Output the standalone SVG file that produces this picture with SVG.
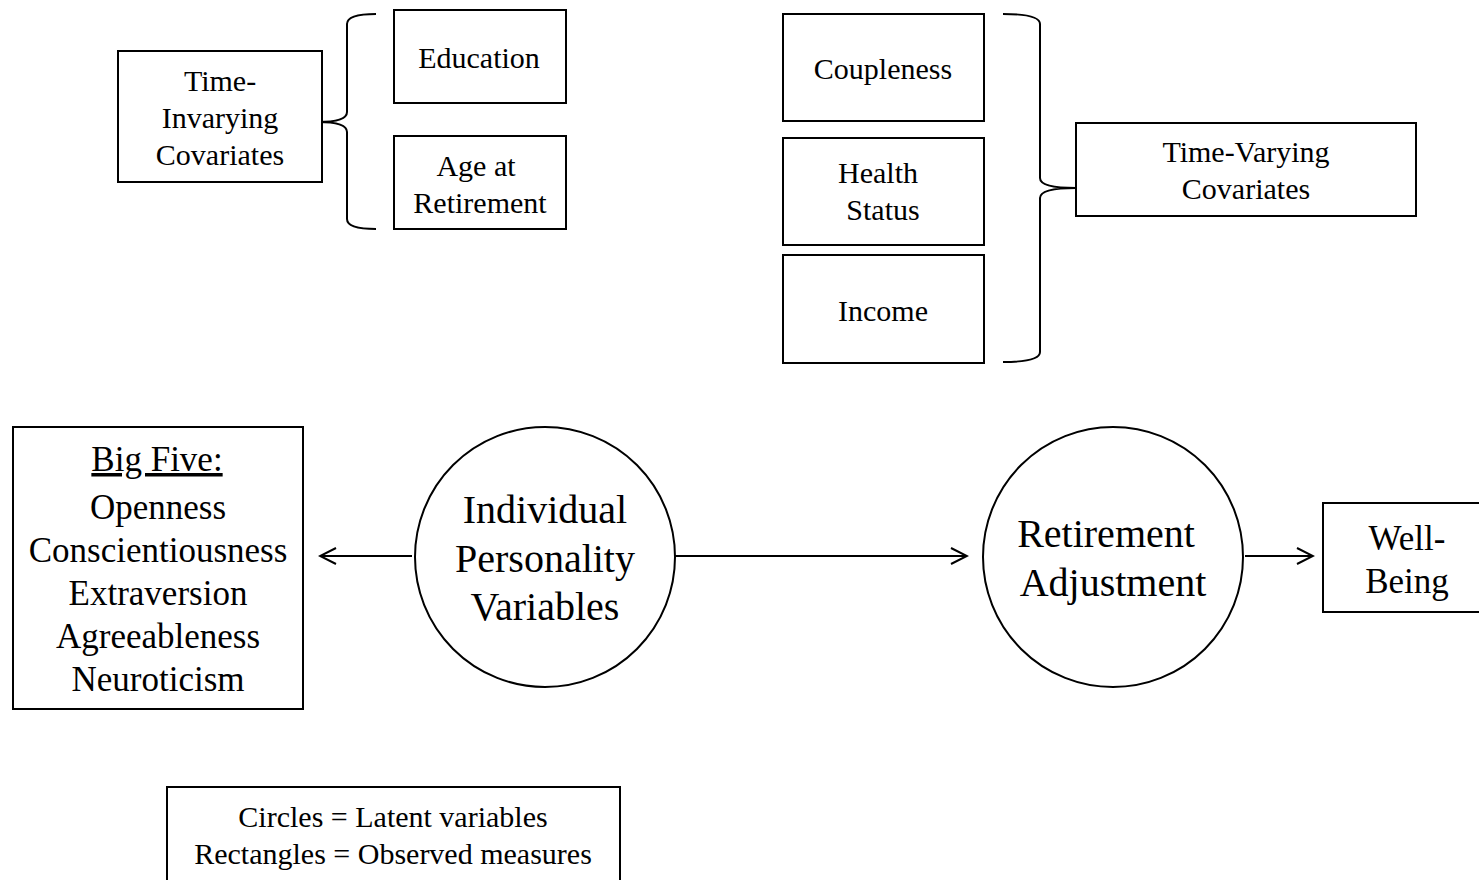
<svg xmlns="http://www.w3.org/2000/svg" width="1479" height="880" viewBox="0 0 1479 880">
<defs>
<style>
.box{fill:#fff;stroke:#000;stroke-width:2}
.ln{fill:none;stroke:#000;stroke-width:2}
text{font-family:"Liberation Serif","Times New Roman",serif;fill:#000;text-anchor:middle}
.s{font-size:30px}
.m{font-size:35px}
.l{font-size:40px}
</style>
<marker id="ah" viewBox="0 0 20 20" refX="18" refY="10" markerWidth="20" markerHeight="20" markerUnits="userSpaceOnUse" orient="auto-start-reverse">
<path d="M2,2 L18,10 L2,18" fill="none" stroke="#000" stroke-width="2"/>
</marker>
</defs>
<rect width="1479" height="880" fill="#fff"/>

<g id="connectors">
<path class="ln" d="M376,14 Q347,14 347,24 L347,112 Q347,122 318,122 Q347,122 347,132 L347,219 Q347,229 376,229"/>
<path class="ln" d="M1003,14 Q1040,14 1040,24 L1040,178 Q1040,188 1076,188 Q1040,188 1040,198 L1040,352 Q1040,362 1003,362"/>
<line class="ln" x1="412" y1="556" x2="320" y2="556" marker-end="url(#ah)"/>
<line class="ln" x1="675" y1="556" x2="967" y2="556" marker-end="url(#ah)"/>
<line class="ln" x1="1245" y1="556" x2="1313" y2="556" marker-end="url(#ah)"/>
</g>

<g id="time-invarying">
<rect class="box" x="118" y="51" width="204" height="131"/>
<text class="s" x="220" y="91">Time-</text>
<text class="s" x="220" y="128">Invarying</text>
<text class="s" x="220" y="165">Covariates</text>
</g>
<g id="education">
<rect class="box" x="394" y="10" width="172" height="93"/>
<text class="s" x="479" y="68">Education</text>
</g>
<g id="age-retirement">
<rect class="box" x="394" y="136" width="172" height="93"/>
<text class="s" x="476" y="176">Age at</text>
<text class="s" x="480" y="213">Retirement</text>
</g>
<g id="coupleness">
<rect class="box" x="783" y="14" width="201" height="107"/>
<text class="s" x="883" y="79">Coupleness</text>
</g>
<g id="health">
<rect class="box" x="783" y="138" width="201" height="107"/>
<text class="s" x="878" y="183">Health</text>
<text class="s" x="883" y="220">Status</text>
</g>
<g id="income">
<rect class="box" x="783" y="255" width="201" height="108"/>
<text class="s" x="883" y="321">Income</text>
</g>
<g id="time-varying">
<rect class="box" x="1076" y="123" width="340" height="93"/>
<text class="s" x="1246" y="162">Time-Varying</text>
<text class="s" x="1246" y="199">Covariates</text>
</g>
<g id="big-five">
<rect class="box" x="13" y="427" width="290" height="282"/>
<text class="m" x="157" y="471" text-decoration="underline">Big Five:</text>
<text class="m" x="158" y="519">Openness</text>
<text class="m" x="158" y="562">Conscientiousness</text>
<text class="m" x="158" y="605">Extraversion</text>
<text class="m" x="158" y="648">Agreeableness</text>
<text class="m" x="158" y="691">Neuroticism</text>
</g>
<g id="personality">
<circle class="box" cx="545" cy="557" r="130"/>
<text class="l" x="545" y="523">Individual</text>
<text class="l" x="545" y="572">Personality</text>
<text class="l" x="545" y="620">Variables</text>
</g>
<g id="adjustment">
<circle class="box" cx="1113" cy="557" r="130"/>
<text class="l" x="1106" y="547">Retirement</text>
<text class="l" x="1113" y="596">Adjustment</text>
</g>
<g id="well-being">
<rect class="box" x="1323" y="503" width="170" height="109"/>
<text class="m" x="1407" y="550">Well-</text>
<text class="m" x="1407" y="593">Being</text>
</g>
<g id="legend">
<rect class="box" x="167" y="787" width="453" height="110"/>
<text class="s" x="393" y="827">Circles = Latent variables</text>
<text class="s" x="393" y="864">Rectangles = Observed measures</text>
</g>
</svg>
